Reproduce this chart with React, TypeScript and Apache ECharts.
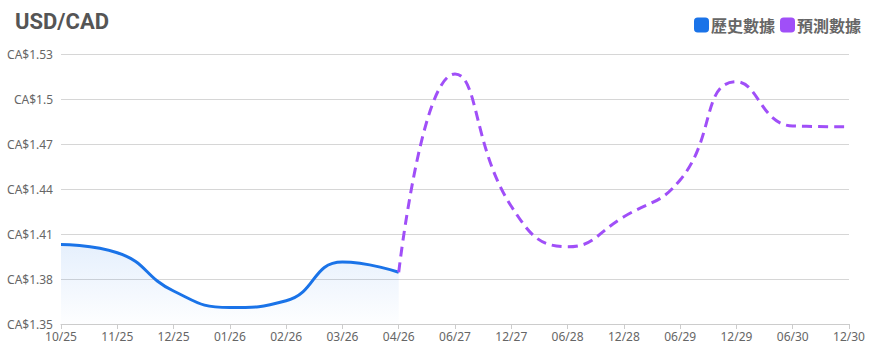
import React, { useEffect, useRef } from "react";
import * as echarts from "echarts";

const categories = ["10/25", "11/25", "12/25", "01/26", "02/26", "03/26", "04/26", "06/27", "12/27", "06/28", "12/28", "06/29", "12/29", "06/30", "12/30"];
const historical: (number | null)[] = [1.403, 1.3975, 1.372, 1.361, 1.3655, 1.3913, 1.3845, null, null, null, null, null, null, null, null];
const forecast: (number | null)[] = [null, null, null, null, null, null, 1.3845, 1.5167, 1.4285, 1.4015, 1.4215, 1.446, 1.5115, 1.482, 1.4815];
const yTicks = { min: 1.35, max: 1.53, interval: 0.03 };

const BLUE = "#1a73e8";
const PURPLE = "#a04ff8";

export default function App() {
  const ref = useRef<HTMLDivElement>(null);
  useEffect(() => {
    document.body.style.margin = "0";
    if (!ref.current) return;
    const chart = echarts.init(ref.current, undefined, { renderer: "svg" });
    chart.setOption({
      animation: false,
      title: {
        text: "USD/CAD",
        left: 10,
        top: 5,
        textStyle: { fontFamily: "Roboto", fontSize: 22, fontWeight: "bold", color: "#555" },
      },
      legend: {
        right: 6,
        top: 12,
        itemWidth: 15,
        itemHeight: 15,
        itemGap: 5,
        icon: "roundRect",
        textStyle: { fontFamily: "Noto Sans CJK TC", fontSize: 16, fontWeight: "bold", color: "#666", padding: [0, 0, 0, -3] },
        data: [
          { name: "歷史數據", itemStyle: { color: BLUE } },
          { name: "預測數據", itemStyle: { color: PURPLE } },
        ],
      },
      grid: { left: 61, right: 23, top: 54, bottom: 31 },
      xAxis: {
        type: "category",
        data: categories,
        boundaryGap: false,
        axisLine: { lineStyle: { color: "#ccc" } },
        axisTick: { lineStyle: { color: "#ccc" } },
        axisLabel: { color: "#666", fontFamily: "Noto Sans", fontSize: 12, margin: 6 },
      },
      yAxis: {
        type: "value",
        min: yTicks.min,
        max: yTicks.max,
        interval: yTicks.interval,
        axisLabel: {
          color: "#666",
          fontFamily: "Noto Sans",
          fontSize: 12,
          margin: 8,
          formatter: (v: number) => "CA$" + parseFloat(v.toFixed(2)),
        },
        splitLine: { lineStyle: { color: "#d6d6d6" } },
      },
      series: [
        {
          name: "歷史數據",
          type: "line",
          data: historical,
          smooth: true,
          showSymbol: false,
          lineStyle: { color: BLUE, width: 3 },
          itemStyle: { color: BLUE },
          areaStyle: {
            color: new echarts.graphic.LinearGradient(0, 0, 0, 1, [
              { offset: 0, color: "rgba(26,115,232,0.16)" },
              { offset: 1, color: "rgba(26,115,232,0.01)" },
            ]),
          },
        },
        {
          name: "預測數據",
          type: "line",
          data: forecast,
          smooth: true,
          showSymbol: false,
          lineStyle: { color: PURPLE, width: 3, type: [10, 6] },
          itemStyle: { color: PURPLE },
        },
      ],
    });
    return () => chart.dispose();
  }, []);
  return <div ref={ref} style={{ width: 872, height: 355 }} />;
}
